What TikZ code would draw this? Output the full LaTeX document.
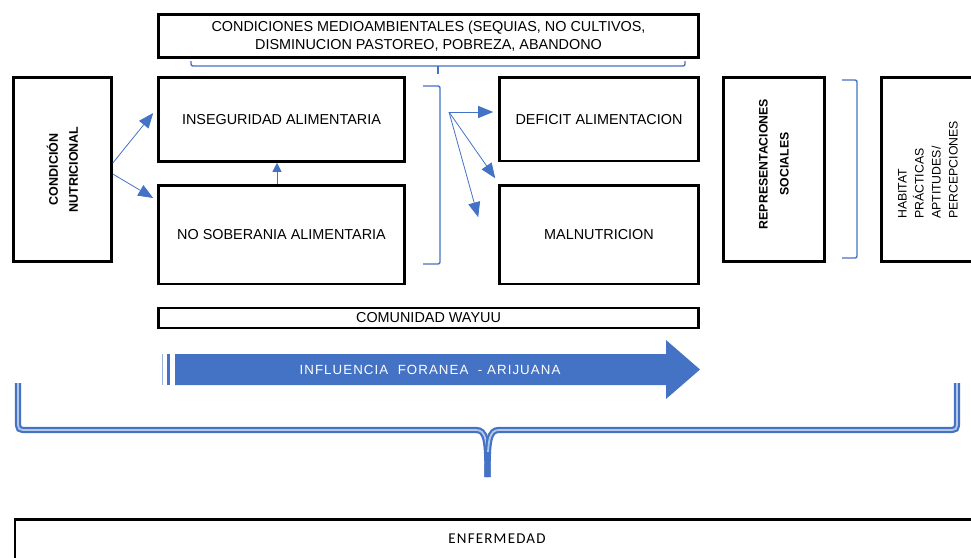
\documentclass[tikz,border=0pt]{standalone}
\usepackage{fontspec}
\setmainfont{Liberation Sans}
\newfontfamily\calfont[LetterSpace=8]{Carlito}
\newfontfamily\spacedfont[LetterSpace=8]{Liberation Sans}
\usetikzlibrary{arrows.meta}
\definecolor{wblue}{HTML}{4472C4}
\definecolor{lblue}{HTML}{B4C7E7}
\begin{document}
\begin{tikzpicture}[x=1pt,y=-1pt,
  box/.style={draw=black, line width=2.6pt, fill=white, inner sep=0pt, align=center,
    font=\fontsize{14.4}{18}\selectfont},
  conn/.style={draw=wblue, line width=0.8pt, -{Triangle[length=15pt,width=12pt]}},
  smallconn/.style={draw=wblue, line width=0.8pt, -{Triangle[length=9pt,width=9pt]}},
  bracket/.style={draw=wblue, line width=1.4pt, rounded corners=2pt},
  bigbrace/.style={draw=wblue, line width=2.2pt, double=lblue, double distance=1.8pt},
  vtext/.style={rotate=90, align=center}
]
\useasboundingbox (0,0) rectangle (971,557);

% top box and brace
\node[box, minimum width=540pt, minimum height=43pt] (top) at (428.5,36)
  {CONDICIONES MEDIOAMBIENTALES (SEQUIAS, NO CULTIVOS,\\DISMINUCION PASTOREO, POBREZA, ABANDONO};
\draw[bracket] (191,61) -- (191,66) -- (685,66) -- (685,61);
\draw[bracket, rounded corners=0pt] (438,66) -- (438,74);

% left column
\node[box, minimum width=98pt, minimum height=184pt] (cond) at (62.5,169.5) {};
\node[vtext, font=\bfseries\fontsize{12.5}{20}\selectfont] (condt) at (cond.center) {CONDICIÓN\\NUTRICIONAL};

\node[box, minimum width=246pt, minimum height=84pt] (inseg) at (281.5,119.5) {INSEGURIDAD ALIMENTARIA};
\node[box, minimum width=246pt, minimum height=98.5pt] (nosob) at (281.5,234.75) {NO SOBERANIA ALIMENTARIA};

\node[box, minimum width=199pt, minimum height=83.5pt] (def) at (599,119.25) {DEFICIT ALIMENTACION};
\node[box, minimum width=199pt, minimum height=98.5pt] (maln) at (599,234.75) {MALNUTRICION};

\node[box, minimum width=101pt, minimum height=184pt] (rep) at (774,169.5) {};
\node[vtext, font=\bfseries\fontsize{12.3}{21}\selectfont] (rept) at (774,164) {REPRESENTACIONES\\SOCIALES};

\node[box, minimum width=100.5pt, minimum height=184pt] (hab) at (931.75,169.5) {};
\node[rotate=90, align=left, font=\fontsize{12.3}{17}\selectfont] (habt) at (928,170)
  {HABITAT\\PRÁCTICAS\\APTITUDES/\\PERCEPCIONES};

% middle bracket and right bracket
\draw[bracket] (423,86) -- (440,86) -- (440,264) -- (423,264);
\draw[bracket] (842,80) -- (857,80) -- (857,258) -- (842,258);

% connectors
\draw[conn] ([yshift=6.5pt]cond.east) -- ([xshift=-4pt,yshift=6.5pt]inseg.west);
\draw[conn] ([yshift=-4.5pt]cond.east) -- ([xshift=-4pt,yshift=36.75pt]nosob.west);
\draw[smallconn] ([xshift=-4.5pt]nosob.north) -- ([xshift=-4.5pt]inseg.south);
\coordinate (fan) at (449,112);
\draw[conn] (fan) -- ([xshift=-5pt,yshift=7.25pt]def.west);
\draw[conn] (fan) -- ([xshift=-3pt,yshift=6pt]maln.north west);
\draw[conn] (fan) -- ([xshift=-20pt,yshift=-33pt]maln.north west);

% comunidad
\node[box, line width=2.4pt, minimum width=540pt, minimum height=20pt] (com) at (428.5,318) {COMUNIDAD WAYUU};

% influence arrow
\fill[wblue!55] (162,354) rectangle (163.2,385);
\fill[wblue] (166.5,354) rectangle (170,385);
\fill[wblue] (175,354) -- (666,354) -- (666,340) -- (700,369.5) -- (666,399) -- (666,385) -- (175,385) -- cycle;
\node[text=white, font=\spacedfont\fontsize{13.3}{15}\selectfont] (infl) at (430,369.5) {INFLUENCIA\ \ FORANEA\ \ - ARIJUANA};

% big brace
\draw[bigbrace] (18,383) -- (18,420) .. controls (18,430) .. (28,430) -- (476,430)
  .. controls (486,430) and (487.5,440) .. (487.5,477);
\draw[bigbrace] (957,383) -- (957,420) .. controls (957,430) .. (947,430) -- (499,430)
  .. controls (489,430) and (487.5,440) .. (487.5,477);
\fill[wblue] (485,452) rectangle (490,477);

% enfermedad
\node[box, minimum width=976.5pt, minimum height=62pt, anchor=north west] (enf) at (13.5,518) {};
\node[font=\calfont\fontsize{15}{17}\selectfont] (enft) at (497,539) {ENFERMEDAD};
\end{tikzpicture}
\end{document}
